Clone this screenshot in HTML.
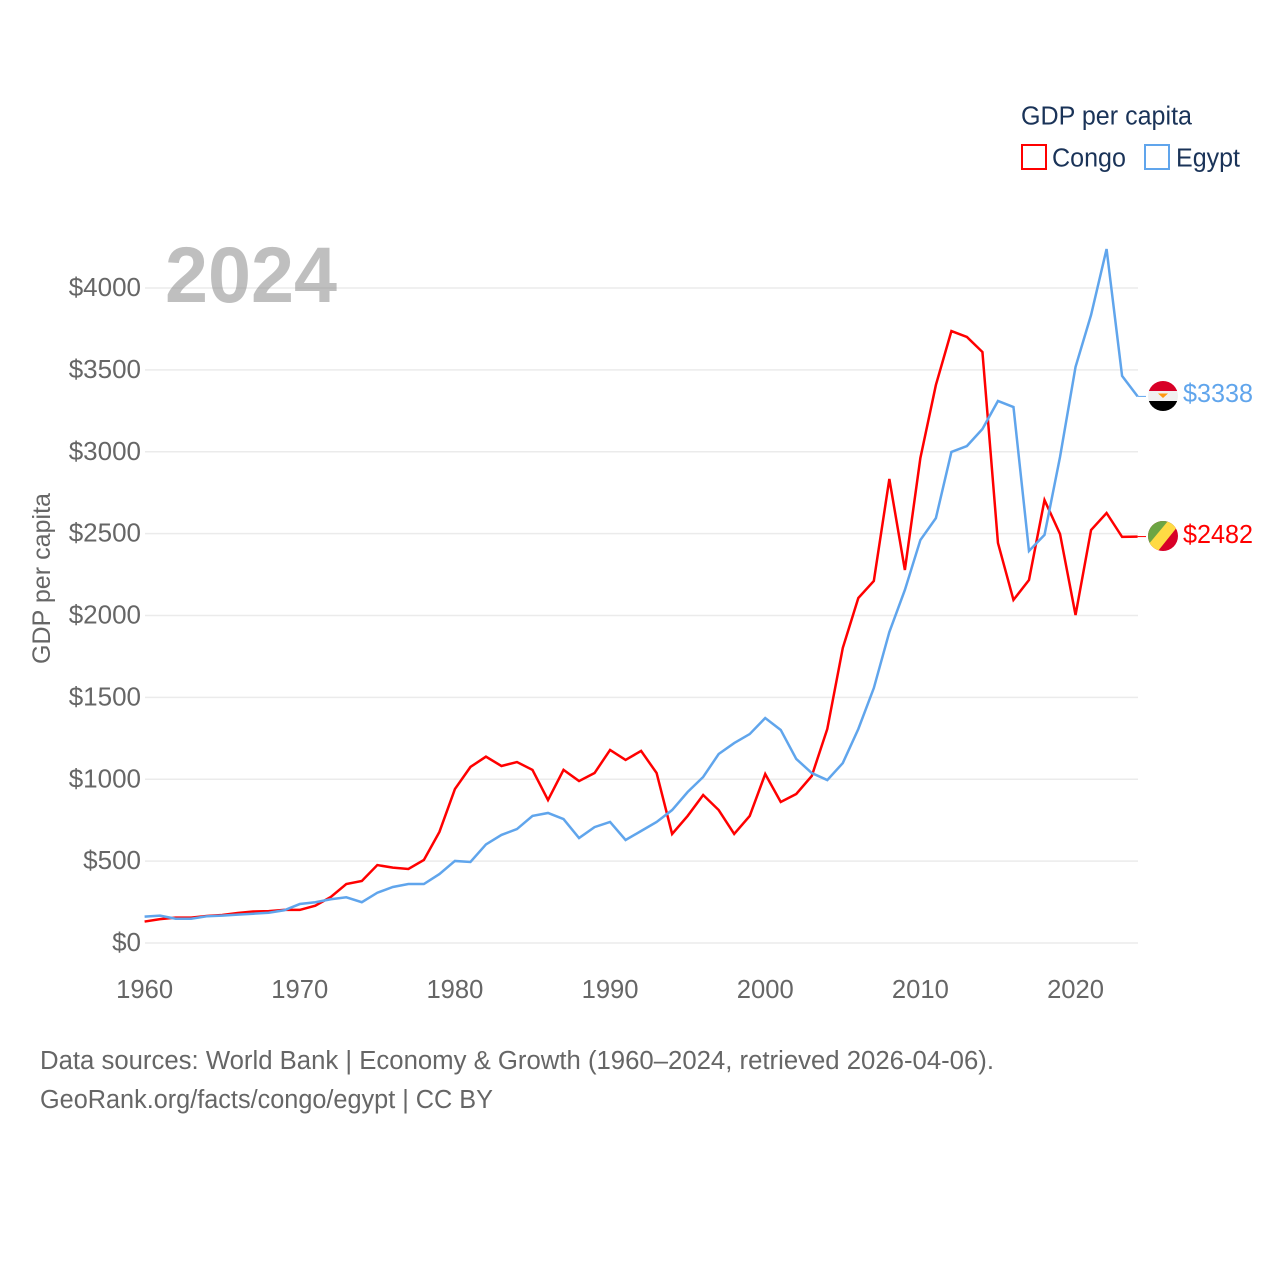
<!DOCTYPE html>
<html lang="en">
<head>
<meta charset="utf-8">
<title>GDP per capita: Congo vs Egypt</title>
<style>
html,body{margin:0;padding:0;background:#fff;}
svg{display:block;font-family:"Liberation Sans",sans-serif;}
</style>
</head>
<body>
<svg id="chart" width="1280" height="1280" viewBox="0 0 1280 1280" xmlns="http://www.w3.org/2000/svg">
  <defs>
    <clipPath id="clip-egypt"><circle cx="1163" cy="396" r="15"/></clipPath>
    <clipPath id="clip-congo"><circle cx="1163" cy="536" r="15"/></clipPath>
  </defs>
  <rect width="1280" height="1280" fill="#fff"/>
  <g id="grid"></g>
  <g id="yticks"></g>
  <g id="xticks"></g>
  <text x="165" y="302" font-size="79" font-weight="700" fill="#808080" fill-opacity="0.5" textLength="172" lengthAdjust="spacingAndGlyphs">2024</text>
  <text transform="translate(50,664) rotate(-90)" font-size="25" fill="#666" textLength="171" lengthAdjust="spacingAndGlyphs">GDP per capita</text>
  <g id="series"></g>

  <g>
    <text x="1021" y="124.5" font-size="25.5" fill="#1a3358" textLength="171" lengthAdjust="spacingAndGlyphs">GDP per capita</text>
    <rect x="1022" y="145" width="24" height="24" fill="none" stroke="#ff0000" stroke-width="2"/>
    <text x="1052" y="166.5" font-size="25.5" fill="#1a3358" textLength="74" lengthAdjust="spacingAndGlyphs">Congo</text>
    <rect x="1145" y="145" width="24" height="24" fill="none" stroke="#60a5ec" stroke-width="2"/>
    <text x="1176" y="166.5" font-size="25.5" fill="#1a3358" textLength="64" lengthAdjust="spacingAndGlyphs">Egypt</text>
  </g>

  <g clip-path="url(#clip-egypt)">
    <rect x="1148" y="381" width="30" height="10" fill="#d80027"/>
    <rect x="1148" y="391" width="30" height="10" fill="#f0f0f0"/>
    <rect x="1148" y="401" width="30" height="10" fill="#000"/>
    <path d="M1158 393.5h10l-5 4.5z" fill="#ff9811"/>
  </g>
  <g clip-path="url(#clip-congo)">
    <rect x="1148" y="521" width="30" height="30" fill="#d80027"/>
    <path d="M1148 521h30L1148 551z" fill="#6da544"/>
    <path d="M1168 521h10L1178 526 1158 551h-10v-6z" fill="#ffda44"/>
  </g>
  <text id="label-egypt" x="1183" y="402" font-size="25.6" fill="#60a5ec" textLength="70" lengthAdjust="spacingAndGlyphs">$3338</text>
  <text id="label-congo" x="1183" y="543" font-size="25.6" fill="#ff0000" textLength="70" lengthAdjust="spacingAndGlyphs">$2482</text>

  <text x="40" y="1069" font-size="25.5" fill="#666" textLength="954" lengthAdjust="spacingAndGlyphs">Data sources: World Bank | Economy &amp; Growth (1960–2024, retrieved 2026-04-06).</text>
  <text x="40" y="1108" font-size="25.5" fill="#666" textLength="453" lengthAdjust="spacingAndGlyphs">GeoRank.org/facts/congo/egypt | CC BY</text>
</svg>
<script>
const years = [1960,1961,1962,1963,1964,1965,1966,1967,1968,1969,1970,1971,1972,1973,1974,1975,1976,1977,1978,1979,1980,1981,1982,1983,1984,1985,1986,1987,1988,1989,1990,1991,1992,1993,1994,1995,1996,1997,1998,1999,2000,2001,2002,2003,2004,2005,2006,2007,2008,2009,2010,2011,2012,2013,2014,2015,2016,2017,2018,2019,2020,2021,2022,2023,2024];
const congoValues = [131,146,155,155,165,171,183,192,195,202,202,228,281,360,379,476,460,452,507,678,940,1075,1138,1081,1105,1057,873,1057,989,1038,1179,1118,1173,1038,666,776,904,812,666,776,1032,861,910,1020,1307,1802,2107,2211,2834,2278,2962,3408,3737,3701,3609,2443,2095,2217,2705,2498,2003,2522,2626,2480,2482];
const egyptValues = [161,167,148,148,163,167,173,179,185,200,238,249,267,279,249,307,342,360,360,421,501,495,602,660,696,776,794,757,641,708,739,629,684,739,812,922,1014,1154,1221,1276,1374,1301,1124,1038,995,1099,1307,1557,1899,2156,2461,2595,2999,3035,3139,3310,3273,2394,2492,2968,3518,3835,4238,3463,3338];
const yTickValues = [0,500,1000,1500,2000,2500,3000,3500,4000];
const yTickLabels = ["$0","$500","$1000","$1500","$2000","$2500","$3000","$3500","$4000"];
const xTickValues = [1960,1970,1980,1990,2000,2010,2020];
const xTickLabels = ["1960","1970","1980","1990","2000","2010","2020"];

const NS = "http://www.w3.org/2000/svg";
const xScale = function (year) { return 144.6 + (year - 1960) * (1137.6 - 144.6) / 64; };
const yScale = function (value) { return 943 - value * 655 / 4000; };

const grid = document.getElementById("grid");
const yticks = document.getElementById("yticks");
const xticks = document.getElementById("xticks");
const series = document.getElementById("series");

yTickValues.forEach(function (v, i) {
  const line = document.createElementNS(NS, "line");
  line.setAttribute("x1", 145);
  line.setAttribute("x2", 1138);
  line.setAttribute("y1", yScale(v));
  line.setAttribute("y2", yScale(v));
  line.setAttribute("stroke", "#ebebeb");
  line.setAttribute("stroke-width", 1.5);
  
  
  grid.appendChild(line);

  const t = document.createElementNS(NS, "text");
  t.setAttribute("x", 141);
  t.setAttribute("y", yScale(v) + 8);
  t.setAttribute("text-anchor", "end");
  t.setAttribute("font-size", 26);
  t.setAttribute("fill", "#666");
  
  
  t.textContent = yTickLabels[i];
  yticks.appendChild(t);
});

xTickValues.forEach(function (v, i) {
  const t = document.createElementNS(NS, "text");
  t.setAttribute("x", xScale(v));
  t.setAttribute("y", 998);
  t.setAttribute("text-anchor", "middle");
  t.setAttribute("font-size", 25.6);
  t.setAttribute("fill", "#666");
  
  
  t.textContent = xTickLabels[i];
  xticks.appendChild(t);
});

function pathFor(values) {
  return values.map(function (v, i) {
    return (i ? "L" : "M") + xScale(years[i]).toFixed(2) + " " + yScale(v).toFixed(2);
  }).join("");
}

const congoLine = document.createElementNS(NS, "path");
congoLine.setAttribute("d", pathFor(congoValues));
congoLine.setAttribute("fill", "none");
congoLine.setAttribute("stroke", "#ff0000");
congoLine.setAttribute("stroke-width", 2.5);
congoLine.setAttribute("stroke-linejoin", "miter");


series.appendChild(congoLine);

const egyptLine = document.createElementNS(NS, "path");
egyptLine.setAttribute("d", pathFor(egyptValues));
egyptLine.setAttribute("fill", "none");
egyptLine.setAttribute("stroke", "#60a5ec");
egyptLine.setAttribute("stroke-width", 2.5);
egyptLine.setAttribute("stroke-linejoin", "miter");


series.appendChild(egyptLine);

const congoConnector = document.createElementNS(NS, "line");
congoConnector.setAttribute("x1", xScale(2024));
congoConnector.setAttribute("x2", 1146);
congoConnector.setAttribute("y1", yScale(congoValues[64]));
congoConnector.setAttribute("y2", yScale(congoValues[64]));
congoConnector.setAttribute("stroke", "#ff0000");
congoConnector.setAttribute("stroke-width", 1);


series.appendChild(congoConnector);

const egyptConnector = document.createElementNS(NS, "line");
egyptConnector.setAttribute("x1", xScale(2024));
egyptConnector.setAttribute("x2", 1146);
egyptConnector.setAttribute("y1", yScale(egyptValues[64]));
egyptConnector.setAttribute("y2", yScale(egyptValues[64]));
egyptConnector.setAttribute("stroke", "#60a5ec");
egyptConnector.setAttribute("stroke-width", 1);


series.appendChild(egyptConnector);

document.getElementById("label-congo").textContent = "$" + congoValues[64];
document.getElementById("label-egypt").textContent = "$" + egyptValues[64];
</script>
</body>
</html>
